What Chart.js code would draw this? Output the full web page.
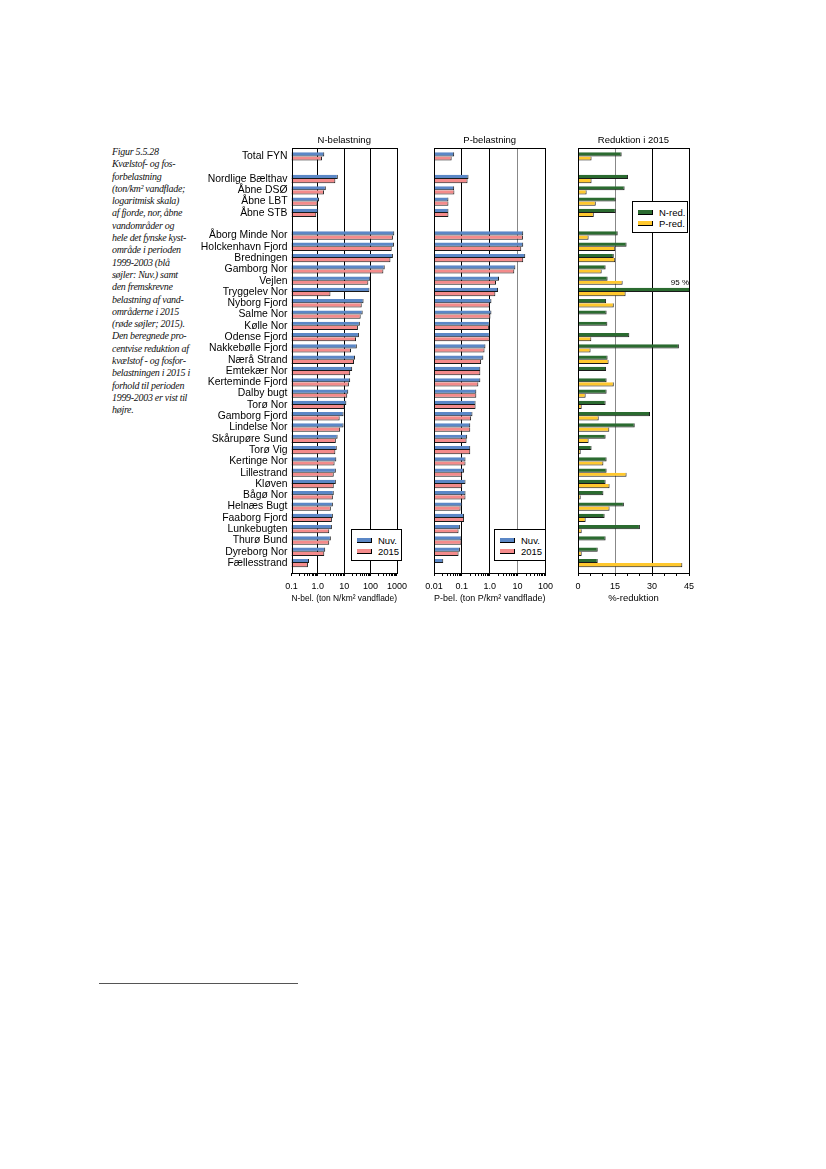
<!DOCTYPE html>
<html>
<head>
<meta charset="utf-8">
<script src="https://cdn.jsdelivr.net/npm/chart.js@4.4.0/dist/chart.umd.min.js"></script>
<style>
body { margin: 0; width: 826px; height: 1169px; background: #fff; position: relative; overflow: hidden; }
canvas { position: absolute; }
.cap { position: absolute; left: 112px; top: 146px; width: 110px; font-family: "Liberation Serif", "DejaVu Serif", serif; font-style: italic; font-size: 10px; letter-spacing: -0.3px; line-height: 12.3px; color: #111; white-space: nowrap; }
.rule { position: absolute; left: 99px; top: 983px; width: 199px; height: 1px; border-top: 1.5px solid #555; }
.legend { position: absolute; background: #fff; border: 1px solid #000; box-sizing: border-box; padding-top: 5px; font-family: "Liberation Sans", Arial, Helvetica, sans-serif; font-size: 9.5px; color: #000; }
.legend .row { position: relative; height: 11px; line-height: 11px; }
.legend .sw { position: absolute; top: 3px; height: 5px; box-sizing: border-box; border-right: 1px solid #000; border-bottom: 1px solid #000; }
.legend .tx { position: absolute; top: 0; }
</style>
</head>
<body>
<div class="cap">Figur 5.5.28<br>Kvælstof- og fos-<br>forbelastning<br>(ton/km² vandflade;<br>logaritmisk skala)<br>af fjorde, nor, åbne<br>vandområder og<br>hele det fynske kyst-<br>område i perioden<br>1999-2003 (blå<br>søjler: Nuv.) samt<br>den fremskrevne<br>belastning af vand-<br>områderne i 2015<br>(røde søjler; 2015).<br>Den beregnede pro-<br>centvise reduktion af<br>kvælstof - og fosfor-<br>belastningen i 2015 i<br>forhold til perioden<br>1999-2003 er vist til<br>højre.</div>
<div class="rule"></div>
<canvas id="nChart" width="222" height="480" style="left:190px;top:130px"></canvas>
<canvas id="pChart" width="140" height="480" style="left:418px;top:130px"></canvas>
<canvas id="rChart" width="140" height="480" style="left:560px;top:130px"></canvas>
<script>
var family = '"Liberation Sans", Arial, Helvetica, sans-serif';

// rows, top to bottom ('' = empty spacer row)
var categories = ['Total FYN', '', 'Nordlige Bælthav', 'Åbne DSØ', 'Åbne LBT', 'Åbne STB', '',
	'Åborg Minde Nor', 'Holckenhavn Fjord', 'Bredningen', 'Gamborg Nor', 'Vejlen', 'Tryggelev Nor',
	'Nyborg Fjord', 'Salme Nor', 'Kølle Nor', 'Odense Fjord', 'Nakkebølle Fjord', 'Nærå Strand',
	'Emtekær Nor', 'Kerteminde Fjord', 'Dalby bugt', 'Torø Nor', 'Gamborg Fjord', 'Lindelse Nor',
	'Skårupøre Sund', 'Torø Vig', 'Kertinge Nor', 'Lillestrand', 'Kløven', 'Bågø Nor', 'Helnæs Bugt',
	'Faaborg Fjord', 'Lunkebugten', 'Thurø Bund', 'Dyreborg Nor', 'Fællesstrand'];

// N load, ton N/km2
var nNuv = [1.75, null, 5.7, 2.0, 1.11, 1.03, null,
	790, 765, 700, 343, 97, 90,
	54, 50, 39, 36, 30, 25.5,
	20, 16.8, 14.2, 12, 9.4, 9.4,
	5.6, 5.2, 5.0, 4.8, 4.8, 4.0, 3.7,
	3.7, 3.4, 3.1, 1.9, 0.46];
var n2015 = [1.43, null, 4.6, 1.7, 0.97, 0.87, null,
	700, 630, 565, 305, 82, 3.0,
	46, 42, 33, 28, 18, 23.5,
	16.8, 15, 13, 10.2, 6.7, 7.0,
	4.8, 4.6, 4.3, 4.0, 4.0, 3.7, 3.1,
	3.4, 2.7, 2.7, 1.75, 0.42];

// P load, ton P/km2
var pNuv = [0.053, null, 0.173, 0.053, 0.033, 0.033, null,
	15.9, 15.9, 18.8, 8.3, 2.15, 1.99,
	1.15, 1.15, 1.0, 1.0, 0.70, 0.59,
	0.46, 0.46, 0.33, 0.31, 0.24, 0.20,
	0.155, 0.20, 0.135, 0.12, 0.135, 0.135, 0.103,
	0.12, 0.085, 0.097, 0.085, 0.0215];
var p2015 = [0.043, null, 0.16, 0.054, 0.033, 0.033, null,
	15.5, 13.5, 15.9, 7.6, 1.68, 1.59,
	1.0, 1.06, 0.95, 1.0, 0.65, 0.49,
	0.46, 0.39, 0.33, 0.31, 0.215, 0.20,
	0.147, 0.20, 0.135, 0.103, 0.103, 0.135, 0.09,
	0.12, 0.076, 0.097, 0.076, null];

// reduction in 2015, %
var nRed = [17.7, null, 20.3, 18.9, 15.3, 15.3, null,
	16.1, 19.7, 14.5, 11.2, 12.0, 95,
	11.4, 11.6, 11.9, 20.8, 40.9, 12.0,
	11.4, 11.6, 11.6, 11.2, 29.2, 23.0,
	11.2, 5.5, 11.6, 11.6, 11.2, 10.3, 18.6,
	10.8, 25.1, 11.2, 8.0, 8.0];
var pRed = [5.5, null, 5.5, 3.5, 7.2, 6.4, null,
	4.3, 15.1, 15.1, 9.6, 18.1, 19.3,
	14.5, 0, 0, 5.4, 5.1, 12.4,
	0, 14.5, 3.1, 1.5, 8.4, 12.7,
	4.3, 1.1, 10.3, 19.7, 12.8, 1.1, 12.8,
	3.1, 1.5, 0, 1.5, 42.3];

var nTicks = [0.1, 1, 10, 100, 1000];
var nTickLabels = ['0.1', '1.0', '10', '100', '1000'];
var pTicks = [0.01, 0.1, 1, 10, 100];
var pTickLabels = ['0.01', '0.1', '1.0', '10', '100'];
var rTicks = [0, 15, 30, 45];
var rTickLabels = ['0', '15', '30', '45'];

function points(values) {
	return values.map(function(v, i) { return { x: v, y: i }; });
}

function logSteps(min, max) {
	var out = [];
	for (var d = min; d < max * 0.999; d = +(d * 10).toPrecision(3)) {
		for (var k = 1; k < 10; k++) out.push(+(d * k).toPrecision(3));
	}
	out.push(max);
	return out;
}

function linSteps(min, max, step) {
	var out = [];
	for (var v = min; v <= max; v += step) out.push(v);
	return out;
}

function same(a, b) {
	return Math.abs(a - b) <= Math.abs(b) * 1e-6 + 1e-9;
}

function labelFor(vals, labels, v) {
	for (var i = 0; i < vals.length; i++) {
		if (same(vals[i], v)) return labels[i];
	}
	return '';
}

// only a few inner grid lines are drawn, in the given colours
function gridColor(lines, cols) {
	return function(ctx) {
		if (!ctx.tick) return 'rgba(0,0,0,0)';
		for (var i = 0; i < lines.length; i++) {
			if (same(lines[i], ctx.tick.value)) return cols[i];
		}
		return 'rgba(0,0,0,0)';
	};
}

var framePlugin = {
	id: 'frame',
	afterDatasetsDraw: function(chart) {
		var a = chart.chartArea, ctx = chart.ctx;
		ctx.save();
		ctx.strokeStyle = '#000';
		ctx.lineWidth = 1;
		ctx.strokeRect(Math.round(a.left) + 0.5, Math.round(a.top) + 0.5, Math.round(a.right - a.left), Math.round(a.bottom - a.top));
		ctx.restore();
	}
};

// value label for bars running past the axis end (Tryggelev 95 %)
var overflowPlugin = {
	id: 'overflow',
	afterDatasetsDraw: function(chart) {
		var xs = chart.scales.x, ctx = chart.ctx;
		chart.data.datasets.forEach(function(ds, d) {
			var meta = chart.getDatasetMeta(d);
			ds.data.forEach(function(p, i) {
				if (p.x == null || p.x <= xs.max) return;
				var el = meta.data[i];
				ctx.save();
				ctx.font = '8px ' + family;
				ctx.fillStyle = '#000';
				ctx.textAlign = 'right';
				ctx.textBaseline = 'bottom';
				ctx.fillText(Math.round(p.x) + ' %', chart.chartArea.right, el.y - el.height / 2 - 1);
				ctx.restore();
			});
		});
	}
};

function makeChart(id, o) {
	var ds = o.series.map(function(s, k) {
		return {
			label: o.names[k],
			data: points(s),
			backgroundColor: o.colors[k],
			borderColor: '#1a1a1a',
			borderWidth: { top: 0, left: 0, right: 1, bottom: 1 },
			borderSkipped: false,
			categoryPercentage: 0.74,
			barPercentage: 1,
			clip: 1
		};
	});

	return new Chart(document.getElementById(id).getContext('2d'), {
		type: 'bar',
		data: { datasets: ds },
		options: {
			indexAxis: 'y',
			responsive: false,
			animation: false,
			layout: { padding: o.padding },
			plugins: {
				legend: { display: false },
				tooltip: { enabled: false },
				title: {
					display: true,
					text: o.title,
					fullSize: false,
					color: '#000',
					font: { family: family, size: 9.5, weight: 'normal' },
					padding: { top: 5, bottom: 2 }
				}
			},
			scales: {
				x: {
					type: o.type,
					min: o.min,
					max: o.max,
					afterBuildTicks: function(s) {
						s.ticks = o.steps.map(function(v) { return { value: v }; });
					},
					afterFit: function(s) { s.height = 37; },
					grid: { color: gridColor(o.lines, o.lineColors), tickColor: '#000', tickLength: 3, lineWidth: 1 },
					border: { color: '#000' },
					ticks: {
						autoSkip: false,
						maxRotation: 0,
						padding: 5,
						color: '#000',
						font: { family: family, size: 9 },
						callback: function(v) { return labelFor(o.tickVals, o.tickLabels, v); }
					},
					title: {
						display: true,
						text: o.axisTitle,
						color: '#000',
						font: { family: family, size: 9.5 },
						padding: { top: 0, bottom: 6 }
					}
				},
				y: {
					type: 'linear',
					reverse: true,
					offset: false,
					min: -0.71,
					max: 36.88,
					display: o.showLabels,
					afterBuildTicks: function(s) {
						s.ticks = categories.map(function(c, i) { return { value: i }; });
					},
					afterFit: function(s) { if (o.showLabels) s.width = o.labelWidth; },
					grid: { display: false, drawTicks: false, offset: false },
					border: { display: false },
					ticks: {
						autoSkip: false,
						padding: 4,
						color: '#000',
						font: { family: family, size: 10.4 },
						callback: function(v) { return categories[v] || ''; }
					}
				}
			}
		},
		plugins: [framePlugin, overflowPlugin]
	});
}

function htmlLegend(chart, left, top, width, height) {
	var box = document.createElement('div');
	box.className = 'legend';
	box.style.left = left + 'px';
	box.style.top = top + 'px';
	box.style.width = width + 'px';
	box.style.height = height + 'px';
	chart.data.datasets.forEach(function(ds) {
		var row = document.createElement('div');
		row.className = 'row';
		var sw = document.createElement('span');
		sw.className = 'sw';
		sw.style.left = '5px';
		sw.style.width = '15px';
		sw.style.background = ds.backgroundColor;
		var tx = document.createElement('span');
		tx.className = 'tx';
		tx.style.left = '26px';
		tx.textContent = ds.label;
		row.appendChild(sw);
		row.appendChild(tx);
		box.appendChild(row);
	});
	document.body.appendChild(box);
}

var nChart = makeChart('nChart', {
	title: 'N-belastning',
	axisTitle: 'N-bel. (ton N/km² vandflade)',
	type: 'logarithmic', min: 0.1, max: 1000,
	steps: logSteps(0.1, 1000),
	tickVals: nTicks, tickLabels: nTickLabels,
	lines: [1, 10, 100], lineColors: ['#000', '#000', '#000'],
	series: [nNuv, n2015], names: ['Nuv.', '2015'], colors: ['#5b87c6', '#f48b8b'],
	showLabels: true, labelWidth: 101.5,
	padding: { left: 0, right: 10.5, top: 0, bottom: 0 }
});

var pChart = makeChart('pChart', {
	title: 'P-belastning',
	axisTitle: 'P-bel. (ton P/km² vandflade)',
	type: 'logarithmic', min: 0.01, max: 100,
	steps: logSteps(0.01, 100),
	tickVals: pTicks, tickLabels: pTickLabels,
	lines: [0.1, 1, 10], lineColors: ['#000', '#000', '#888'],
	series: [pNuv, p2015], names: ['Nuv.', '2015'], colors: ['#5b87c6', '#f48b8b'],
	showLabels: false,
	padding: { left: 16, right: 12, top: 0, bottom: 0 }
});

var rChart = makeChart('rChart', {
	title: 'Reduktion i 2015',
	axisTitle: '%-reduktion',
	type: 'linear', min: 0, max: 45,
	steps: linSteps(0, 45, 5),
	tickVals: rTicks, tickLabels: rTickLabels,
	lines: [15, 30], lineColors: ['#888', '#000'],
	series: [nRed, pRed], names: ['N-red.', 'P-red.'], colors: ['#2b6b30', '#ffc82e'],
	showLabels: false,
	padding: { left: 18, right: 11, top: 0, bottom: 0 }
});

htmlLegend(nChart, 351, 529, 51, 32);
htmlLegend(pChart, 494, 529, 52, 32);
htmlLegend(rChart, 632, 201, 56, 32);
</script>
</body>
</html>
